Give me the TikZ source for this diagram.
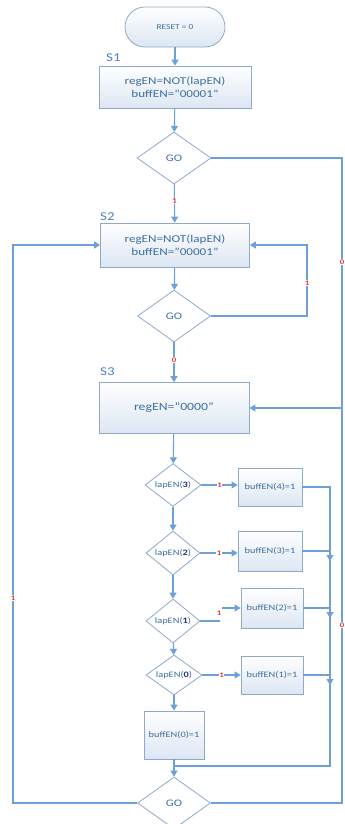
\documentclass[tikz,border=0pt]{standalone}
\usepackage{fontspec}
\setmainfont{Carlito}[FakeStretch=1.25]
\usetikzlibrary{shapes.geometric,arrows.meta}
\definecolor{txt}{HTML}{3F6E9F}
\definecolor{bord}{HTML}{8FA9C9}
\definecolor{wire}{HTML}{6E9FD6}
\definecolor{lab}{HTML}{D93A2F}
\definecolor{dig}{HTML}{2B2F78}
\definecolor{boxbot}{HTML}{DCE6F3}
\definecolor{slab}{HTML}{4F81BD}
\newcommand{\zw}[1]{\makebox[0pt][c]{#1}}
\newcommand{\dg}[1]{{\bfseries\color{dig}#1}}
\begin{document}
\begin{tikzpicture}[x=1pt,y=-1pt,
  procbox/.style={draw=bord, line width=0.8pt, top color=white, bottom color=boxbot,
    text=txt, align=center, inner sep=0pt},
  terminal/.style={procbox, rounded corners=20pt},
  decision/.style={diamond, draw=bord, line width=0.8pt, fill=white, text=txt, inner sep=0pt},
  wireline/.style={draw=wire, line width=1.1pt},
  arr/.style={wireline, -{Triangle[width=7pt,length=6pt]}},
  redlab/.style={text=lab, font=\fontsize{7}{7}\selectfont\bfseries, inner sep=0.6pt, fill=white},
  statelab/.style={text=slab, font=\fontsize{12}{12}\selectfont, inner sep=0pt, anchor=west},
  mainfont/.style={font=\fontsize{10.5}{13.5}\selectfont},
  smallfont/.style={font=\fontsize{8.3}{10}\selectfont},
]
\useasboundingbox (0,0) rectangle (345,824);
\fill[white] (0,0) rectangle (345,824);

% nodes
\node[terminal, minimum width=100pt, minimum height=40pt, font=\fontsize{7.5}{9}\selectfont] (reset) at (175,27) {RESET = 0};
\node[statelab] (s1lab) at (106,58) {S1};
\node[procbox, mainfont, minimum width=152pt, minimum height=42pt] (s1) at (175,87) {regEN=NOT(lapEN)\\buffEN=''00001''};
\node[decision, minimum width=74pt, minimum height=52pt, font=\fontsize{10}{12}\selectfont] (go1) at (174,158) {\zw{GO}};

\node[statelab] (s2lab) at (100,217) {S2};
\node[procbox, mainfont, minimum width=149pt, minimum height=44pt] (s2) at (175,245) {regEN=NOT(lapEN)\\buffEN=''00001''};
\node[decision, minimum width=73pt, minimum height=52pt, font=\fontsize{10}{12}\selectfont] (go2) at (174,316) {\zw{GO}};

\node[statelab] (s3lab) at (100,372) {S3};
\node[procbox, font=\fontsize{11}{13}\selectfont, minimum width=150pt, minimum height=51pt] (s3) at (174,408) {regEN=''0000''};

\node[decision, smallfont, minimum width=56pt, minimum height=43pt] (l3) at (173,485) {\zw{lapEN(\dg{3})}};
\node[procbox, smallfont, minimum width=64pt, minimum height=38pt] (b4) at (270,487) {buffEN(4)=1};
\node[decision, smallfont, minimum width=54pt, minimum height=44pt] (l2) at (173,553) {\zw{lapEN(\dg{2})}};
\node[procbox, smallfont, minimum width=64pt, minimum height=40pt] (b3) at (270,551) {buffEN(3)=1};
\node[decision, smallfont, minimum width=54pt, minimum height=44pt] (l1) at (173,621) {\zw{lapEN(\dg{1})}};
\node[procbox, smallfont, minimum width=62pt, minimum height=40pt] (b2) at (272,608) {buffEN(2)=1};
\node[decision, smallfont, minimum width=56pt, minimum height=40pt] (l0) at (174,675) {\zw{lapEN(\dg{0})}};
\node[procbox, smallfont, minimum width=62pt, minimum height=38pt] (b1) at (272,675) {buffEN(1)=1};
\node[procbox, smallfont, minimum width=60pt, minimum height=48pt] (b0) at (174,735) {buffEN(0)=1};
\node[decision, minimum width=73pt, minimum height=52pt, font=\fontsize{10}{12}\selectfont] (go3) at (174,803) {\zw{GO}};

% helper coordinates
\coordinate (r1) at (342,158);
\coordinate (r3) at (342,803);
\coordinate (g2r) at (307,316);
\coordinate (lft) at (13,803);
\coordinate (k1) at (220,621);
\coordinate (k2) at (222,608);
\coordinate (vtop) at (330,487);
\coordinate (j3) at (330,551);
\coordinate (j2) at (330,608);
\coordinate (j1) at (330,675);
\coordinate (vbot) at (330,766);
\coordinate (mj) at (174,766);

% main flow
\draw[arr] (reset) -- (s1);
\draw[arr] (s1) -- (go1);
\draw[arr] (go1) -- node[redlab, pos=0.45] {1} (s2);
\draw[arr] (s2) -- (go2);
\draw[arr] (go2) -- node[redlab, pos=0.45] {0} (s3);
\draw[arr] (go2.east) -- (g2r) |- node[redlab, pos=0.23] {1} (s2.east);
\draw[arr] (go1.east) -- (r1) |- (s3.east);
\draw[wireline] (go3.east) -- (r3) -- (342,408);
\draw[arr] (go3.west) -- (lft) |- (s2.west);

\draw[arr] (s3) -- (l3);
\draw[arr] (l3) -- (l2);
\draw[arr] (l2) -- (l1);
\draw[arr] (l1) -- (l0);
\draw[arr] (l0) -- (b0);
\draw[arr] (b0) -- (go3);

\draw[arr] (l3.east) -- node[redlab, pos=0.5] {1} (b4.west |- l3.east);
\draw[arr] (l2.east) -- node[redlab, pos=0.5] {1} (b3.west |- l2.east);
\draw[wireline] (l1.east) -- (k1);
\draw[arr] (k2) -- (b2.west);
\node[redlab] (lb2) at (219,613) {1};
\draw[arr] (l0.east) -- node[redlab, pos=0.5] {1} (b1.west);

\draw[wireline] (b4.east) -- (vtop) -- (vbot) -- (mj);
\draw[wireline] (b3.east) -- (j3);
\draw[wireline] (b2.east) -- (j2);
\draw[wireline] (b1.east) -- (j1);
\draw[arr] ([yshift=-3pt]j3) -- ++(0,7);
\draw[arr] ([yshift=-3pt]j2) -- ++(0,7);
\draw[arr] ([yshift=-3pt]j1) -- ++(0,7);

% labels on the right loop and the left loop
\node[redlab] (lr1) at (342,262) {0};
\node[redlab] (lr2) at (342,625) {0};
\node[redlab] (ll1) at (13,598) {1};
\end{tikzpicture}
\end{document}
